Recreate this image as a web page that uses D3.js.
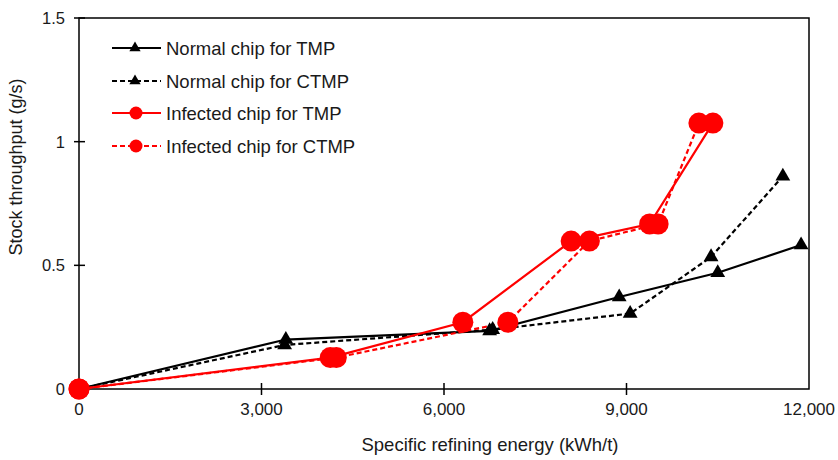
<!DOCTYPE html>
<html>
<head>
<meta charset="utf-8">
<script src="https://cdn.jsdelivr.net/npm/d3@7"></script>
<style>
  body { margin: 0; background: #fff; }
  text { font-family: "Liberation Sans", Arial, sans-serif; fill: #1a1a1a; }
</style>
</head>
<body>
<svg width="838" height="460"></svg>
<script>
// data
const normalTMP = [[0, 0], [3400, 0.2], [6750, 0.235], [8880, 0.372], [10500, 0.47], [11870, 0.582]];
const normalCTMP = [[0, 0], [3380, 0.178], [6800, 0.24], [9060, 0.305], [10390, 0.534], [11570, 0.86]];
const infectedTMP = [[0, 0], [4130, 0.127], [6310, 0.27], [8090, 0.598], [9380, 0.667], [10420, 1.075]];
const infectedCTMP = [[0, 0], [4230, 0.127], [7050, 0.27], [8390, 0.598], [9520, 0.667], [10190, 1.075]];

const xTicks = [0, 3000, 6000, 9000, 12000];
const yTicks = [0, 0.5, 1, 1.5];

const series = [
  { name: "Normal chip for TMP", data: normalTMP, color: "#000", dash: null, marker: "triangle" },
  { name: "Normal chip for CTMP", data: normalCTMP, color: "#000", dash: "5,3", marker: "triangle" },
  { name: "Infected chip for TMP", data: infectedTMP, color: "#ff0000", dash: null, marker: "circle" },
  { name: "Infected chip for CTMP", data: infectedCTMP, color: "#ff0000", dash: "5,3", marker: "circle" }
];

let svg = d3.select("svg");

const plotLeft = 79, plotRight = 809, plotTop = 18, plotBottom = 389;

let x = d3.scaleLinear().domain([0, 12000]).range([plotLeft, plotRight]);
let y = d3.scaleLinear().domain([0, 1.5]).range([plotBottom, plotTop]);

// frame
svg.append("rect")
    .attr("x", plotLeft).attr("y", plotTop)
    .attr("width", plotRight - plotLeft).attr("height", plotBottom - plotTop)
    .attr("fill", "none")
    .attr("stroke", "#000")
    .attr("stroke-width", 1.5);

// x axis ticks (crossing)
let xAxis = svg.append("g");
xAxis.selectAll("line")
    .data(xTicks.slice(1, -1))
    .enter()
    .append("line")
    .attr("x1", d => x(d)).attr("x2", d => x(d))
    .attr("y1", plotBottom - 6).attr("y2", plotBottom + 6)
    .attr("stroke", "#000").attr("stroke-width", 1.5);
xAxis.selectAll("text")
    .data(xTicks)
    .enter()
    .append("text")
    .attr("x", d => x(d))
    .attr("y", plotBottom + 26)
    .attr("text-anchor", "middle")
    .style("font-size", "17px")
    .text(d => d3.format(",")(d));

// y axis ticks (crossing)
let yAxis = svg.append("g");
yAxis.selectAll("line")
    .data(yTicks.slice(1))
    .enter()
    .append("line")
    .attr("x1", plotLeft - 5).attr("x2", plotLeft + 6)
    .attr("y1", d => y(d)).attr("y2", d => y(d))
    .attr("stroke", "#000").attr("stroke-width", 1.5);
yAxis.selectAll("text")
    .data(yTicks)
    .enter()
    .append("text")
    .attr("x", plotLeft - 14)
    .attr("y", d => y(d) + 6)
    .attr("text-anchor", "end")
    .style("font-size", "16.5px")
    .text(d => d === 0 ? "0" : String(d));

// axis titles
svg.append("text")
    .attr("x", 490)
    .attr("y", 451)
    .attr("text-anchor", "middle")
    .style("font-size", "18.5px")
    .text("Specific refining energy (kWh/t)");

svg.append("text")
    .attr("transform", "translate(22, 167) rotate(-90)")
    .attr("text-anchor", "middle")
    .style("font-size", "18px")
    .text("Stock throughput (g/s)");

let line = d3.line().x(d => x(d[0])).y(d => y(d[1]));
let tri = d3.symbol().type(d3.symbolTriangle);

let plot = svg.append("g");

series.forEach(s => {
  plot.append("path")
      .datum(s.data)
      .attr("d", line)
      .attr("fill", "none")
      .attr("stroke", s.color)
      .attr("stroke-width", 2.2)
      .attr("stroke-dasharray", s.dash);
});

series.forEach(s => {
  let g = plot.append("g");
  if (s.marker === "circle") {
    g.selectAll("circle")
        .data(s.data)
        .enter()
        .append("circle")
        .attr("cx", d => x(d[0]))
        .attr("cy", d => y(d[1]))
        .attr("r", 10.5)
        .attr("fill", s.color);
  } else {
    g.selectAll("path")
        .data(s.data.slice(1))
        .enter()
        .append("path")
        .attr("d", tri.size(95))
        .attr("transform", d => `translate(${x(d[0])},${y(d[1])})`)
        .attr("fill", s.color);
  }
});

// legend
let legend = svg.append("g");
const rowY = [48, 81, 113, 146];
series.forEach((s, i) => {
  let row = legend.append("g").attr("transform", `translate(0, ${rowY[i]})`);
  row.append("line")
      .attr("x1", 112).attr("x2", 161)
      .attr("y1", 0).attr("y2", 0)
      .attr("stroke", s.color)
      .attr("stroke-width", 2.2)
      .attr("stroke-dasharray", s.dash);
  if (s.marker === "circle") {
    row.append("circle").attr("cx", 136).attr("cy", 0).attr("r", 6.5).attr("fill", s.color);
  } else {
    row.append("path").attr("d", tri.size(55)).attr("transform", "translate(135,0)").attr("fill", s.color);
  }
  row.append("text")
      .attr("x", 166)
      .attr("y", 7)
      .style("font-size", "18.5px")
      .text(s.name);
});
</script>
</body>
</html>
